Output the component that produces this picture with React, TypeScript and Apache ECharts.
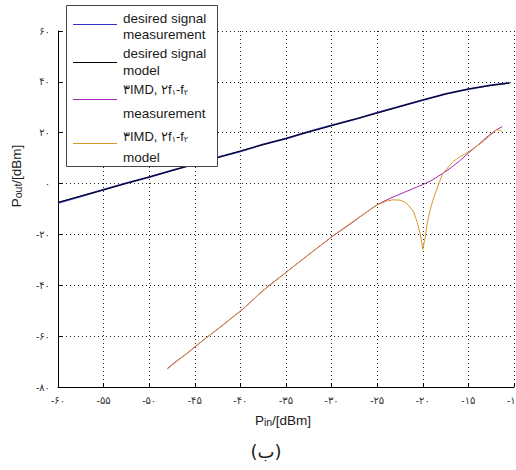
import React, { useEffect, useRef } from "react";
import * as echarts from "echarts";

// Desired signal: input power sweep (dBm) and output power (dBm)
const desiredPin = [-60, -57.5, -55, -52.5, -50, -47.5, -45, -42.5, -40, -37.5, -35, -32.5, -30, -27.5, -25, -22.5, -20, -17.5, -15, -12.5, -10.5];
const desiredMeasured = [-7.6, -5.0, -2.4, 0.2, 2.5, 5.2, 7.6, 10.3, 12.7, 15.4, 17.7, 20.4, 22.9, 25.2, 27.9, 30.4, 32.8, 35.3, 37.1, 38.7, 39.6];
const desiredModel = [-7.4, -4.9, -2.5, 0.1, 2.6, 5.1, 7.7, 10.2, 12.8, 15.3, 17.8, 20.3, 22.8, 25.3, 27.7, 30.3, 32.9, 35.2, 37.2, 38.6, 39.5];

// Third-order intermodulation product (2f1-f2), measured
const imdPin = [-48, -47, -46, -45, -44, -43, -42, -41, -40, -39, -38, -37, -36, -35, -34, -33, -32, -31, -30, -29, -28, -27, -26, -25, -24, -23, -22, -21, -20, -19, -18, -17, -16, -15, -14, -13, -12, -11.3];
const imdMeasured = [-72.7, -69.8, -67.2, -64.3, -61.4, -58.6, -55.9, -53.0, -50.2, -47.0, -43.6, -40.5, -37.7, -35.0, -32.1, -29.3, -26.5, -23.8, -21.0, -18.5, -16.0, -13.4, -10.8, -8.3, -6.5, -4.9, -3.4, -1.9, -0.4, 1.3, 3.6, 6.0, 8.8, 12.0, 15.0, 18.2, 21.0, 22.4];

// Third-order intermodulation product (2f1-f2), model
const imdModelPin = [-48, -45, -42.5, -40, -37.5, -35, -32.5, -30, -27.5, -25, -24, -23.3, -22.5, -22, -21.5, -21, -20.6, -20.3, -20, -19.7, -19.5, -19.2, -18.9, -18.5, -18.2, -17.8, -17.4, -16.7, -16, -15.1, -14.2, -13.4, -12.6, -11.9, -11.5, -11.3];
const imdModel = [-72.9, -64.2, -57.2, -50.1, -42.1, -34.9, -27.9, -20.9, -14.5, -8.4, -6.9, -6.4, -6.5, -7.2, -8.8, -11.2, -15.3, -19.5, -25.9, -20.5, -15.2, -10.5, -6.6, -2.6, 0.4, 4.0, 5.6, 8.6, 10.4, 12.2, 14.4, 16.5, 19.0, 21.2, 20.9, 20.4];

const legendNames = ["desired signal", "measurement", "desired signal", "model", "measurement", "model"];
const seriesColors = ["#3434c4", "#000000", "#a224b4", "#d8982c"];

const persianDigits = ["۰", "۱", "۲", "۳", "۴", "۵", "۶", "۷", "۸", "۹"];
const toPersian = (v: number) =>
  (v < 0 ? "-" : "") + String(Math.abs(v)).replace(/[0-9]/g, (d) => persianDigits[Number(d)]);

const zip = (xs: number[], ys: number[]) => xs.map((x, i) => [x, ys[i]]);

const FONT = "Liberation Sans, Arial, DejaVu Sans, sans-serif";

export default function App() {
  const ref = useRef<HTMLDivElement>(null);

  useEffect(() => {
    if (!ref.current) return;
    const chart = echarts.init(ref.current, undefined, { renderer: "svg" });

    const legendText = (text: string, x: number, y: number) => ({
      type: "text",
      z: 101,
      style: { text, x, y, font: `13.5px ${FONT}`, fill: "#1a1a1a", textVerticalAlign: "middle" },
    });
    const imdText = (x: number, y: number) => ({
      type: "text",
      z: 101,
      style: {
        text: "{a|۳IMD, ۲f}{s|۱}{a|-f}{s|۲}",
        x,
        y,
        textVerticalAlign: "middle",
        rich: {
          a: { fontSize: 13, fontFamily: FONT, fill: "#1a1a1a", verticalAlign: "bottom" },
          s: { fontSize: 8, fontFamily: FONT, fill: "#1a1a1a", padding: [6, 0, 0, 0], verticalAlign: "bottom" },
        },
      },
    });
    const legendLine = (y: number, color: string) => ({
      type: "line",
      z: 101,
      shape: { x1: 73, y1: y, x2: 117, y2: y },
      style: { stroke: color, lineWidth: 1.2 },
    });

    chart.setOption({
      animation: false,
      backgroundColor: "#ffffff",
      grid: { left: 58, top: 31, right: 2, bottom: 83, outerBoundsMode: "none", containLabel: false },
      xAxis: {
        type: "value",
        min: -60,
        max: -10,
        interval: 5,
        axisLine: { show: true, onZero: false, lineStyle: { color: "#000", width: 1 } },
        axisTick: { show: true, inside: true, length: 4, lineStyle: { color: "#000" } },
        axisLabel: {
          formatter: (v: number) => toPersian(v),
          fontSize: 10,
          color: "#333",
          fontFamily: FONT,
          margin: 8,
        },
        splitLine: { show: true, lineStyle: { color: "#222", type: [1, 3], width: 1 } },
      },
      yAxis: {
        type: "value",
        min: -80,
        max: 60,
        interval: 20,
        axisLine: { show: true, onZero: false, lineStyle: { color: "#000", width: 1 } },
        axisTick: { show: true, inside: true, length: 4, lineStyle: { color: "#000" } },
        axisLabel: {
          formatter: (v: number) => toPersian(v),
          fontSize: 10,
          color: "#333",
          fontFamily: FONT,
          margin: 8,
        },
        splitLine: { show: true, lineStyle: { color: "#222", type: [1, 3], width: 1 } },
      },
      series: [
        {
          name: "desired signal measurement",
          type: "line",
          data: zip(desiredPin, desiredMeasured),
          showSymbol: false,
          lineStyle: { color: seriesColors[0], width: 1.8 },
          z: 2,
        },
        {
          name: "desired signal model",
          type: "line",
          data: zip(desiredPin, desiredModel),
          showSymbol: false,
          lineStyle: { color: seriesColors[1], width: 1 },
          z: 3,
        },
        {
          name: "3IMD measurement",
          type: "line",
          data: zip(imdPin, imdMeasured),
          showSymbol: false,
          lineStyle: { color: seriesColors[2], width: 1 },
          z: 4,
        },
        {
          name: "3IMD model",
          type: "line",
          data: zip(imdModelPin, imdModel),
          showSymbol: false,
          lineStyle: { color: seriesColors[3], width: 1 },
          z: 5,
        },
      ],
      graphic: [
        // axis titles
        {
          type: "text",
          z: 50,
          x: 15,
          y: 176,
          rotation: Math.PI / 2,
          style: {
            text: "{p|P}{s|out}{p|/[dBm]}",
            textAlign: "center",
            textVerticalAlign: "middle",
            rich: {
              p: { fontSize: 13.5, fontFamily: FONT, fill: "#1a1a1a", verticalAlign: "bottom" },
              s: { fontSize: 10.5, fontFamily: FONT, fill: "#1a1a1a", padding: [5, 0, 0, 0], verticalAlign: "bottom" },
            },
          },
        },
        {
          type: "text",
          z: 50,
          style: {
            text: "{p|P}{s|in}{p|/[dBm]}",
            x: 283,
            y: 419,
            textAlign: "center",
            textVerticalAlign: "middle",
            rich: {
              p: { fontSize: 13.5, fontFamily: FONT, fill: "#1a1a1a", verticalAlign: "bottom" },
              s: { fontSize: 10.5, fontFamily: FONT, fill: "#1a1a1a", padding: [5, 0, 0, 0], verticalAlign: "bottom" },
            },
          },
        },
        {
          type: "text",
          z: 50,
          style: {
            text: "(ب)",
            x: 266,
            y: 451,
            textAlign: "center",
            textVerticalAlign: "middle",
            font: `18px DejaVu Sans, sans-serif`,
            fill: "#1a1a1a",
          },
        },
        // legend
        {
          type: "rect",
          z: 100,
          shape: { x: 66.5, y: 5.5, width: 151, height: 161 },
          style: { fill: "#ffffff", stroke: "#444", lineWidth: 1 },
        },
        legendLine(24.5, seriesColors[0]),
        legendLine(62.5, seriesColors[1]),
        legendLine(99.5, seriesColors[2]),
        legendLine(143.5, seriesColors[3]),
        legendText(legendNames[0], 123, 18),
        legendText(legendNames[1], 123, 34),
        legendText(legendNames[2], 123, 53),
        legendText(legendNames[3], 123, 70),
        imdText(123, 89),
        legendText(legendNames[4], 123, 113),
        imdText(123, 136),
        legendText(legendNames[5], 123, 157),
      ],
    });

    return () => chart.dispose();
  }, []);

  return (
    <div
      ref={ref}
      style={{ position: "fixed", left: 0, top: 0, width: 516, height: 470, background: "#fff" }}
    />
  );
}
